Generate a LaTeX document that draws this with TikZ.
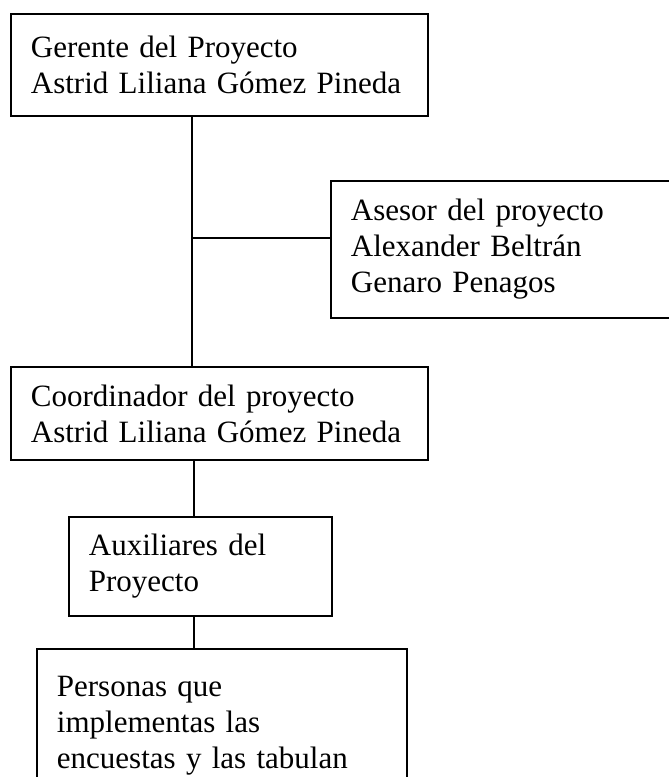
\documentclass[tikz,border=0pt]{standalone}
\usepackage{fontspec}
\setmainfont{Liberation Serif}
\usetikzlibrary{positioning}

\begin{document}
\begin{tikzpicture}[x=0.5pt, y=-0.5pt, line width=0.9pt,
  every node/.style={draw, anchor=north west, align=left,
    inner xsep=10pt, inner ysep=2pt, font=\fontsize{15.5}{18}\selectfont},
  cargo/.style n args={2}{text width=#1, minimum height=#2}]
\useasboundingbox (0,0) rectangle (669,777);
\clip (0,0) rectangle (669,777);
\node[cargo={188.5pt}{51pt}] (gerente) at (10,13)
  {Gerente del Proyecto\\Astrid Liliana Gómez Pineda};
\node[cargo={155pt}{68.5pt}] (asesor) at (330,180)
  {Asesor del proyecto\\Alexander Beltrán\\Genaro Penagos};
\node[cargo={188.5pt}{46.5pt}] (coordinador) at (10,366)
  {Coordinador del proyecto\\Astrid Liliana Gómez Pineda};
\node[cargo={111.5pt}{49.5pt}] (auxiliares) at (68,516)
  {Auxiliares del\\Proyecto};
\node[cargo={165pt}{76.5pt}] (personas) at (36,648)
  {Personas que\\implementas las\\encuestas y las tabulan};
\coordinate (tronco) at (192,238);
\coordinate (eje) at (194,0);
\draw (gerente.south -| tronco) -- (coordinador.north -| tronco);
\draw (tronco) -- (asesor.west |- tronco);
\draw (coordinador.south -| eje) -- (auxiliares.north -| eje);
\draw (auxiliares.south -| eje) -- (personas.north -| eje);
\end{tikzpicture}
\end{document}
